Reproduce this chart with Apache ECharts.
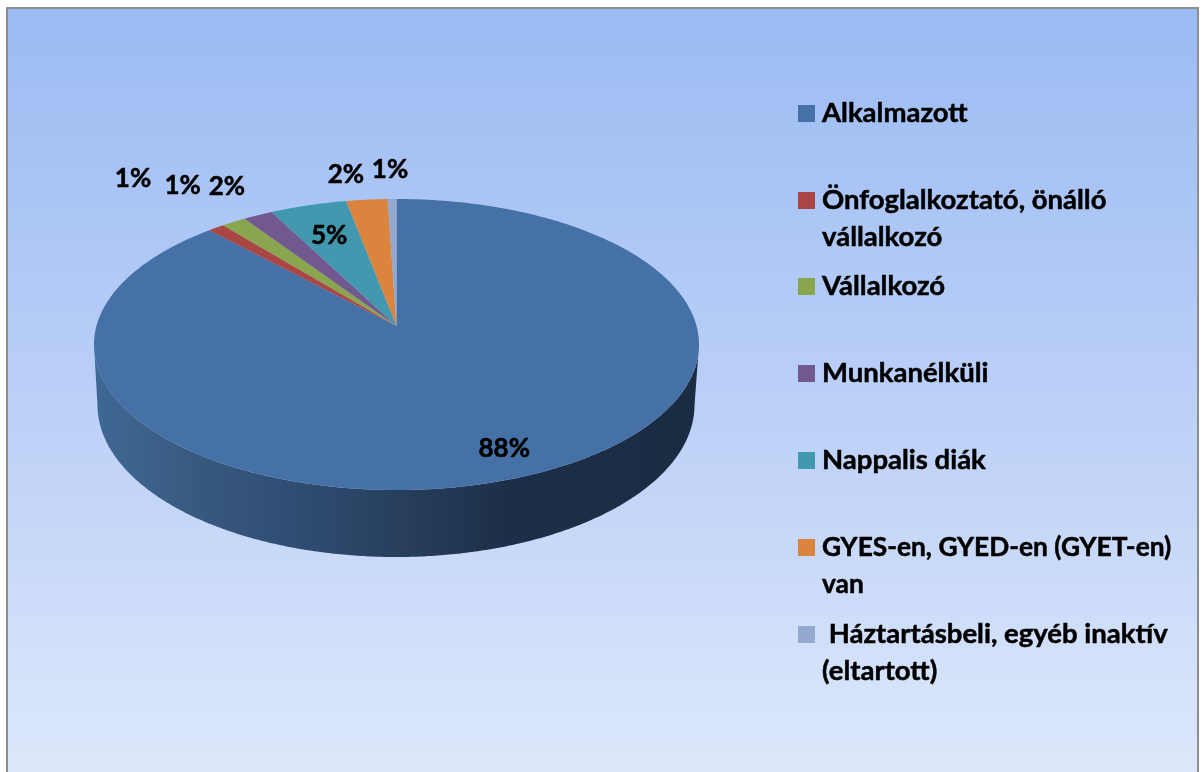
<!DOCTYPE html>
<html>
<head>
<meta charset="utf-8">
<style>html,body{margin:0;padding:0;background:#fff}#c{width:1202px;height:772px}</style>
<script src="https://cdn.jsdelivr.net/npm/echarts@6/dist/echarts.min.js"></script>
</head>
<body>
<div id="c"></div>
<script>
// ---- data ----
const categories = ['Alkalmazott', 'Önfoglalkoztató, önálló vállalkozó', 'Vállalkozó', 'Munkanélküli', 'Nappalis diák', 'GYES-en, GYED-en (GYET-en) van', ' Háztartásbeli, egyéb inaktív (eltartott)'];
const shares = [88.05, 1.0, 1.49, 1.79, 4.65, 2.49, 0.53];
const legendLines = [['Alkalmazott'], ['Önfoglalkoztató, önálló', 'vállalkozó'], ['Vállalkozó'], ['Munkanélküli'], ['Nappalis diák'], ['GYES-en, GYED-en (GYET-en)', 'van'], [' Háztartásbeli, egyéb inaktív', '(eltartott)']];

// ---- styling and layout ----
const colors = ['#4571A6', '#AA4643', '#89A54E', '#71588F', '#4198AF', '#DB843D', '#93A9CF'];
const labelNudges = [[-17, -28], [-83, -49], [-51, -36], [-31, -29], [21, 30], [-21, -25], [-2, -29]];
const legendCentres = [113.5, 200.5, 286.5, 373.5, 460.5, 547.5, 634.5];
const legendFontSizes = [27.5, 27.5, 27.5, 27.5, 27.5, 26.3, 27.5];
const FONT = 'Lato';
const topFace = { cx: 396.5, cy: 344.5, rx: 302.5, ry: 145.5 };
const bottomFace = { cx: 396, cy: 405, rx: 298.5, ry: 152 };
const tilt = -0.127;             // perspective shift of the pie centre towards the back
const tiltScale = Math.sqrt(1 - tilt * tilt);
const total = shares.reduce((a, b) => a + b, 0);

// unit-circle point at a clockwise fraction from 12 o'clock, in perspective
function project(frac) {
  const t = frac * 2 * Math.PI, cx = Math.sin(t), cy = -Math.cos(t), d = 1 + tilt * cy;
  return { X: cx * tiltScale / d, Y: (cy + tilt) / d };
}
const onEllipse = (p, e) => [e.cx + p.X * e.rx, e.cy + p.Y * e.ry];

function renderSlice(i) {
  return function (params, api) {
    const value = api.value(0);
    let before = 0;
    for (let k = 0; k < i; k++) before += shares[k];
    const f0 = before / total, f1 = (before + value) / total;
    const n = Math.max(4, Math.ceil((f1 - f0) * 720));
    const rim = [];
    for (let k = 0; k <= n; k++) rim.push(project(f0 + (f1 - f0) * k / n));
    const children = [];
    const front = rim.filter(p => p.Y >= 0);
    if (front.length > 1) {
      const pts = front.map(p => onEllipse(p, topFace)).concat(front.slice().reverse().map(p => onEllipse(p, bottomFace)));
      children.push({
        type: 'polygon', shape: { points: pts },
        style: { fill: new echarts.graphic.LinearGradient(0, 0, 1, 0, [
          { offset: 0, color: '#3F6895' }, { offset: 0.17, color: '#38597F' },
          { offset: 0.33, color: '#2F4D72' }, { offset: 0.5, color: '#28405E' },
          { offset: 0.68, color: '#1C2F48' }, { offset: 1, color: '#1A2C42' }]) }
      });
    }
    const apex = [topFace.cx, topFace.cy + tilt * topFace.ry];
    children.push({
      type: 'polygon', shape: { points: [apex].concat(rim.map(p => onEllipse(p, topFace))) },
      style: { fill: colors[i] }
    });
    const mid = onEllipse(project((f0 + f1) / 2), topFace);
    children.push({
      type: 'text', z2: 10,
      style: {
        text: Math.round(value / total * 100) + '%',
        x: mid[0] + labelNudges[i][0], y: mid[1] + labelNudges[i][1],
        align: 'center', verticalAlign: 'middle',
        font: 'bold 26px ' + FONT, fill: '#000', stroke: '#000', lineWidth: 0.5
      }
    });
    return { type: 'group', children };
  };
}

const seriesList = categories.map((name, i) => ({
  type: 'custom', name, coordinateSystem: 'none',
  silent: true, clip: false,
  itemStyle: { color: colors[i] },
  data: [[shares[i]]],
  renderItem: renderSlice(i)
}));

const legendList = categories.map((name, i) => {
  const lines = legendLines[i];
  const two = lines.length > 1;
  return {
    data: [name], left: 798,
    top: legendCentres[i] - (two ? 55.5 : 18.5),
    orient: 'vertical', padding: 0, icon: 'rect',
    itemWidth: 17, itemHeight: 17, selectedMode: false,
    formatter: () => (two ? ' \n' : '') + lines.join('\n'),
    textStyle: { fontFamily: FONT, fontWeight: 'bold', fontSize: legendFontSizes[i], lineHeight: 37, color: '#000',
      padding: [0, 0, 0, 2], textBorderColor: '#000', textBorderWidth: 0.5 }
  };
});

const chart = echarts.init(document.getElementById('c'), null, { renderer: 'canvas' });
chart.setOption({
  animation: false,
  backgroundColor: '#fff',
  graphic: [{
    type: 'rect', z: -10, silent: true,
    shape: { x: 7, y: 8, width: 1191, height: 790 },
    style: {
      stroke: '#8E8E8E', lineWidth: 2,
      fill: new echarts.graphic.LinearGradient(0, 0, 0, 1, [
        { offset: 0, color: '#9BBBF3' }, { offset: 0.5, color: '#BBD0F7' }, { offset: 1, color: '#DFE9FB' }])
    }
  }],
  legend: legendList,
  series: seriesList
});
</script>
</body>
</html>
